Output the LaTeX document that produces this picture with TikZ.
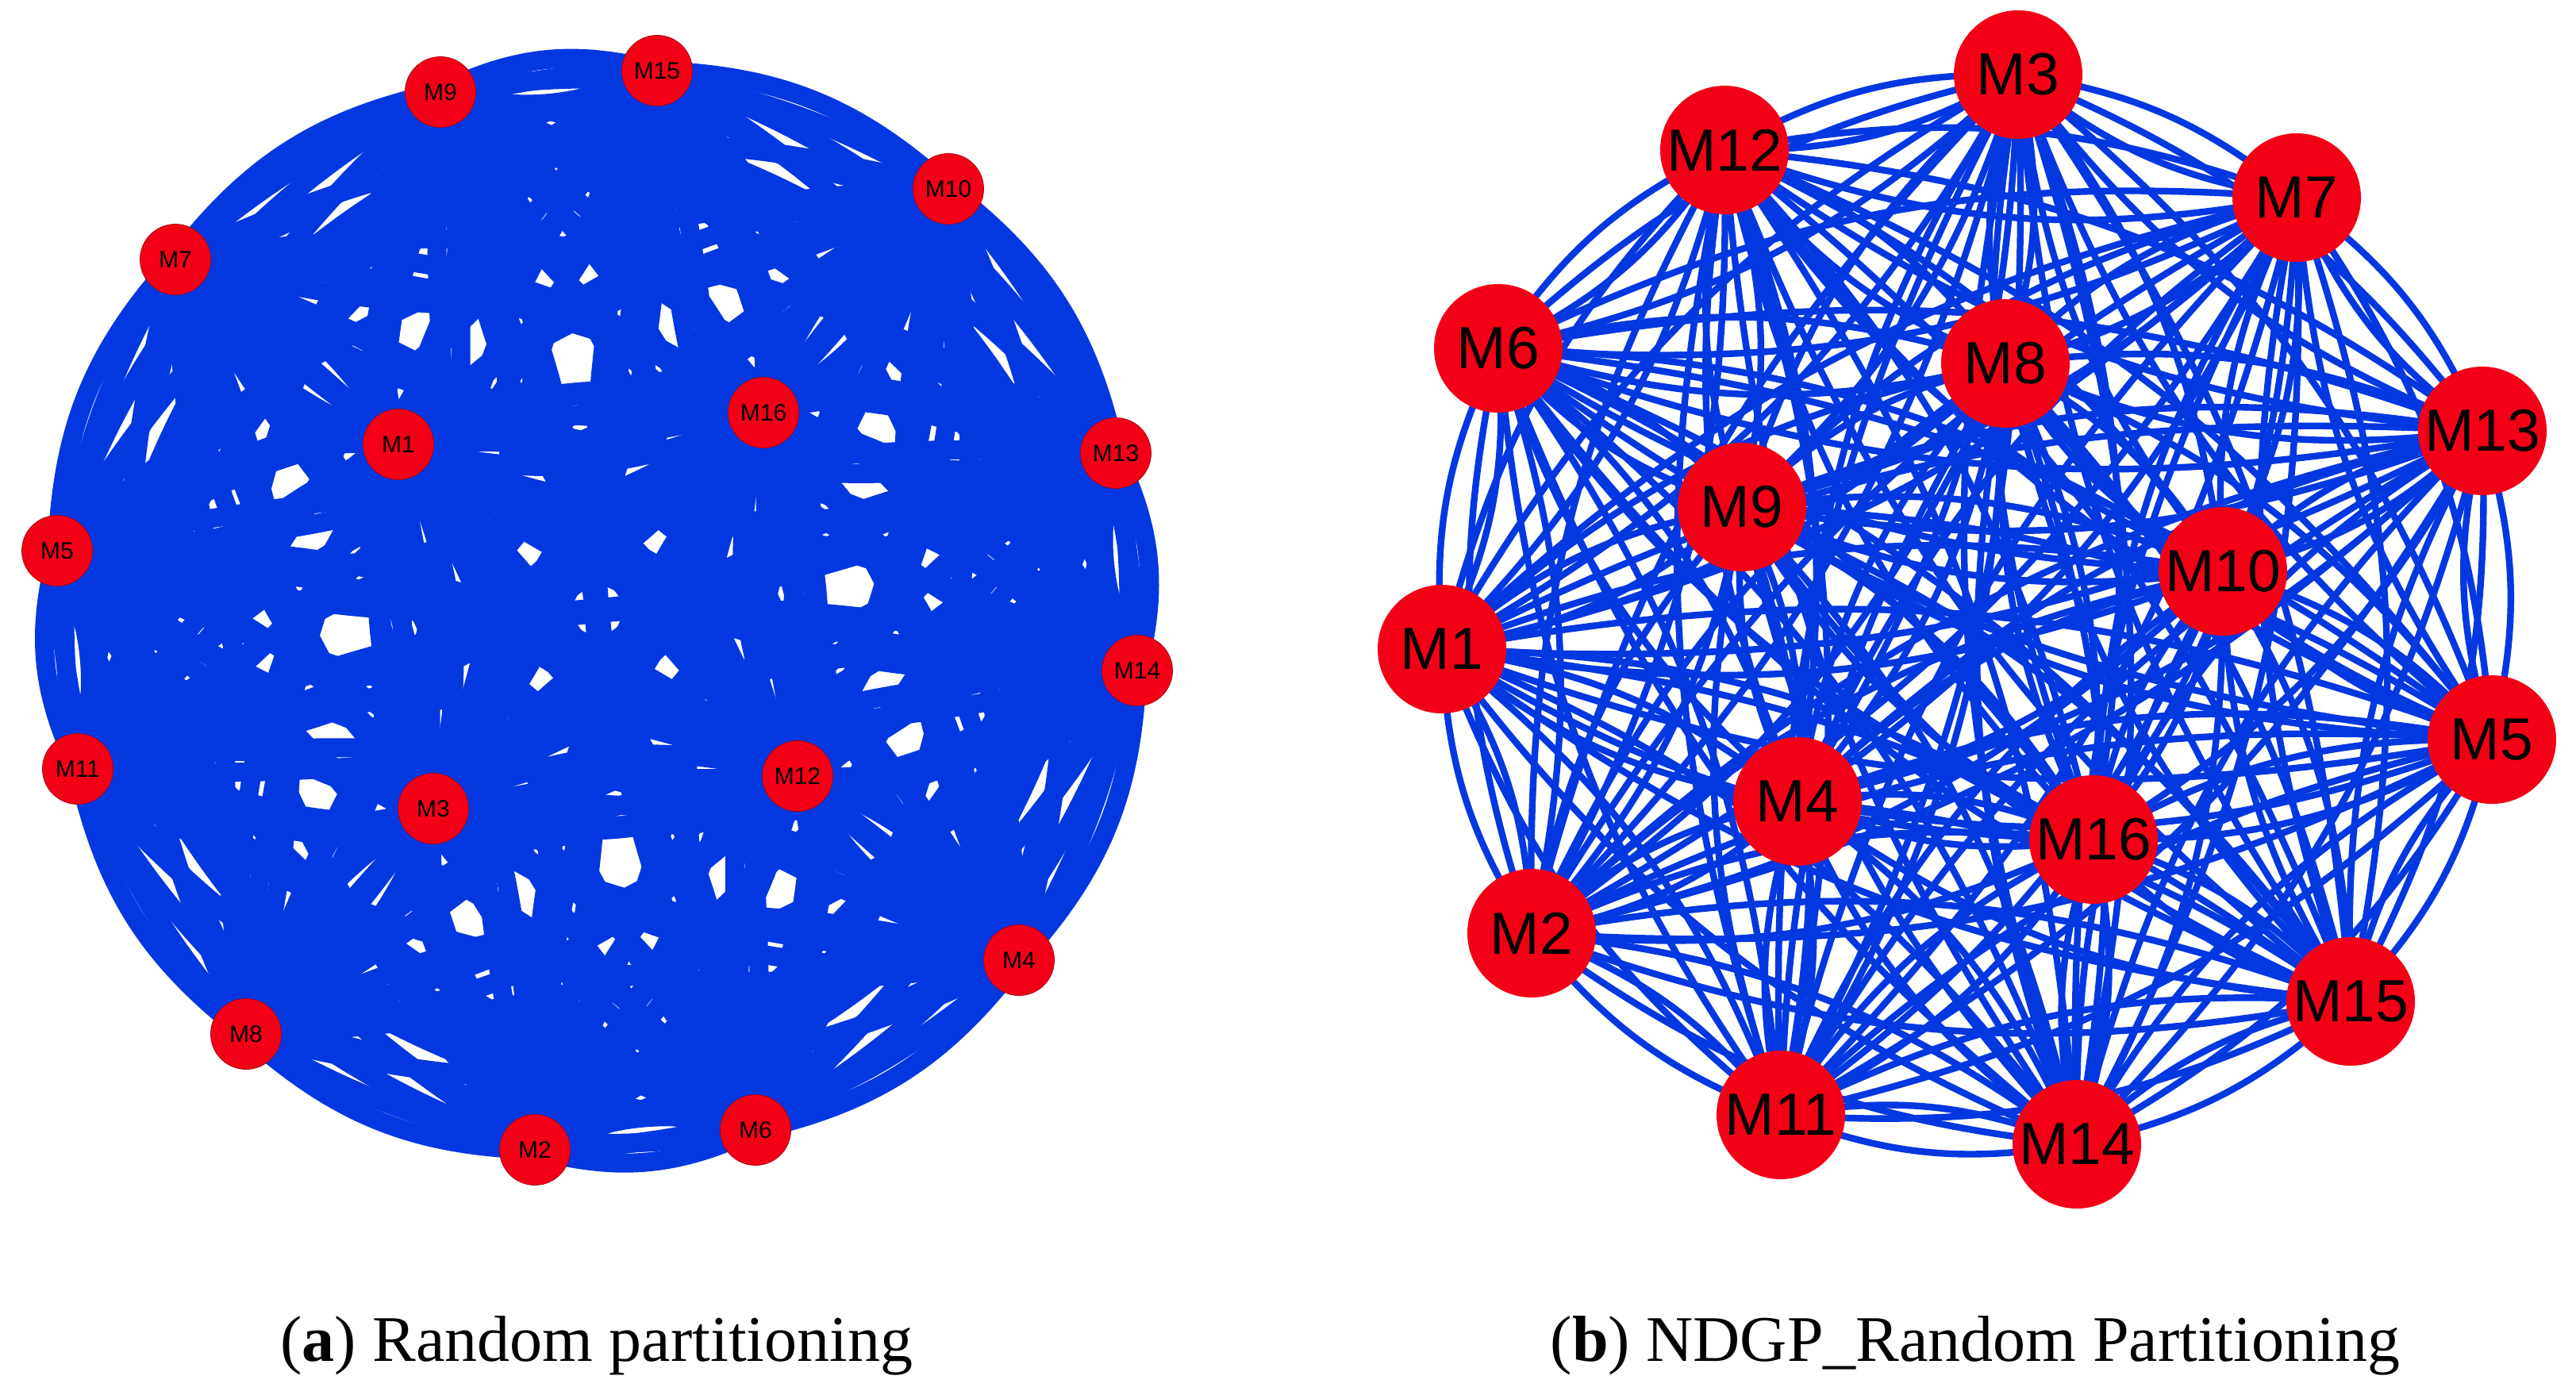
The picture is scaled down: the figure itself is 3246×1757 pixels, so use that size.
\documentclass[tikz,border=0pt]{standalone}
\usepackage{fontspec}
\setmainfont{Liberation Serif}
\newfontfamily\arialf{Liberation Sans}
\usetikzlibrary{backgrounds}
\definecolor{edgeblue}{RGB}{3,56,225}
\definecolor{nodered}{RGB}{243,0,23}
\begin{document}
\begin{tikzpicture}[x=0.5pt,y=-0.5pt,
 lnode/.style={circle,fill=nodered,draw=nodered!70!black,line width=0.4pt,minimum size=44.5pt,inner sep=0pt,font=\arialf\fontsize{15}{15}\selectfont},
 rnode/.style={circle,fill=nodered,minimum size=81pt,inner sep=0pt,font=\arialf\fontsize{37.5}{37.5}\selectfont},
 ledge/.style={draw=edgeblue,line width=12pt},
 redge/.style={draw=edgeblue,line width=4.2pt},
 captext/.style={font=\fontsize{41}{48}\selectfont,anchor=base,inner sep=0pt}]
\useasboundingbox (0,0) rectangle (3246,1757);
% left graph nodes
\foreach \n/\x/\y in {9/555/116,15/828/89,10/1195/238,7/221/327,1/502/560,16/962/520,13/1406/571,5/72/694,14/1433/845,11/98/969,3/546/1019,12/1005/978,4/1284/1210,8/310/1303,2/674/1449,6/952/1424}
  \node[lnode] (a\n) at (\x,\y) {M\n};
% right graph nodes
\foreach \n/\x/\y in {3/2543/94,12/2173/189,7/2894/249,6/1888/439,8/2527/458,13/3128/543,9/2195/639,10/2801/720,1/1817/818,5/3140/932,4/2265/1010,16/2638/1058,2/1930/1176,15/2962/1262,11/2244/1405,14/2617/1442}
  \node[rnode] (b\n) at (\x,\y) {M\n};
\begin{scope}[on background layer]
\foreach \i in {1,...,15}{
  \pgfmathtruncatemacro\s{\i+1}
  \foreach \j in {\s,...,16}{
    \draw[ledge] (a\i.center) to[bend left=20] (a\j.center);
    \draw[ledge] (a\i.center) to[bend right=20] (a\j.center);
    \draw[redge] (b\i.center) to[bend left=15] (b\j.center);
    \draw[redge] (b\i.center) to[bend right=15] (b\j.center);
  }
}
\end{scope}
\node[captext] (capa) at (752,1715) {(\textbf{a}) Random partitioning};
\node[captext] (capb) at (2489,1715) {(\textbf{b}) NDGP\_Random Partitioning};
\end{tikzpicture}
\end{document}
